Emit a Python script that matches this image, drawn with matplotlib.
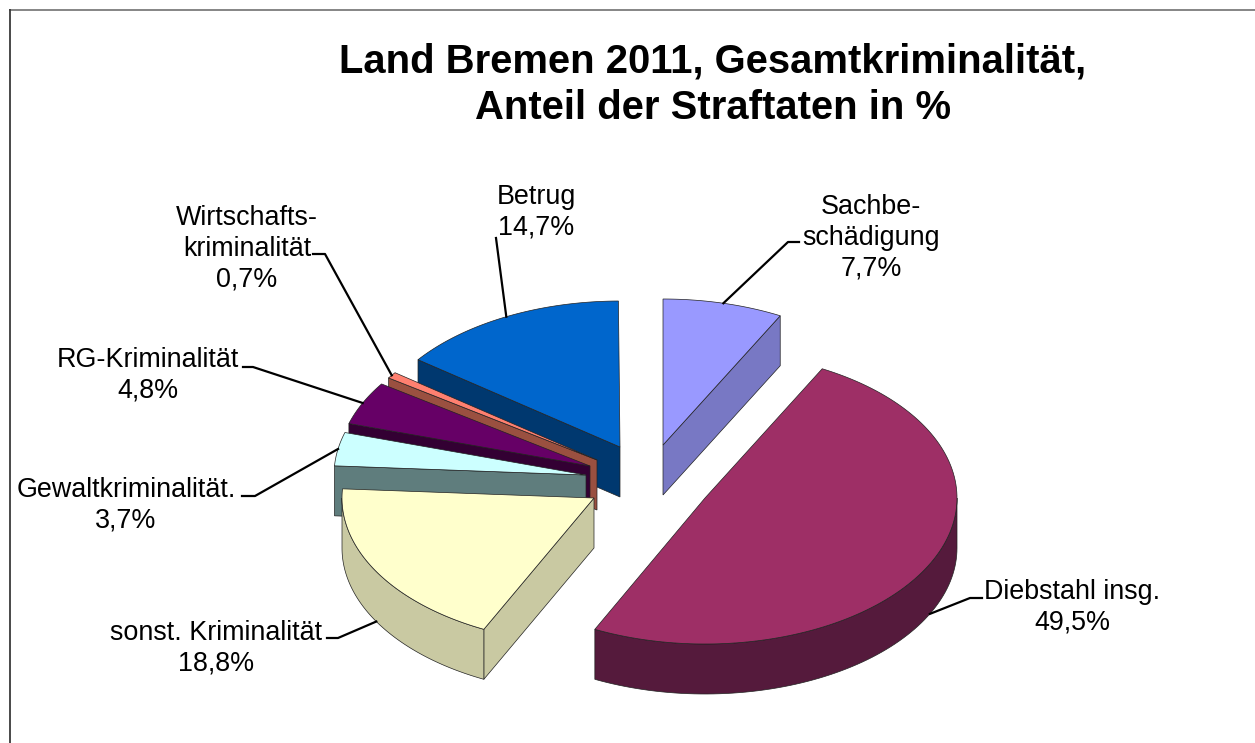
import numpy as np
import matplotlib
matplotlib.use('Agg')
import matplotlib.pyplot as plt
from matplotlib.patches import Polygon

plt.rcParams['font.family'] = ['Liberation Sans', 'DejaVu Sans']

# data, clockwise from 12 o'clock
names = ['Sachbe-\nschädigung', 'Diebstahl insg.', 'sonst. Kriminalität', 'Gewaltkriminalität.',
         'RG-Kriminalität', 'Wirtschafts-\nkriminalität', 'Betrug']
shares = [7.7, 49.5, 18.8, 3.7, 4.8, 0.7, 14.7]

# look of the slices
top_colors = ['#9999FF', '#9E2F66', '#FFFFCC', '#CCFFFF', '#660066', '#FF8070', '#0066CC']
side_colors = ['#7878C4', '#551A3C', '#C9C9A2', '#5F7D7D', '#330033', '#9A5040', '#00386F']
# apex of each exploded slice in pixels
apex = [(663, 445), (705, 498), (594, 498), (586, 475), (590, 466), (597, 460), (620, 447)]
rx, ry, depth = 252, 146, 50
draw_order = [0, 6, 5, 4, 3, 2, 1]

# label text centre and the elbow of its leader line
label_pos = [(871, 238), (1072, 607), (216, 648), (126, 505.5), (148, 375.5), (247, 249), (536, 212.5)]
elbow = [[(788, 242), (799, 242)], [(970, 598), (982, 598)], [(338, 638), (327, 638)],
         [(255, 496), (242, 496)], [(253, 367), (243, 367)], [(325, 254), (313, 254)],
         [(496, 238)]]

fig = plt.figure(figsize=(12.55, 7.43), dpi=100)
ax = fig.add_axes([0, 0, 1, 1])
ax.set_xlim(0, 1255)
ax.set_ylim(743, 0)
ax.axis('off')

# frame
ax.plot([9, 1255], [9.5, 9.5], color='#858585', lw=1.4, solid_capstyle='butt')
ax.plot([9.5, 9.5], [743, 9], color='#3a3a3a', lw=1.3, solid_capstyle='butt')

ends = np.cumsum(shares) / 100 * 360
starts = ends - np.array(shares) / 100 * 360


def rim(a, deg):
    t = np.radians(deg)
    return np.array([a[0] + rx * np.sin(t), a[1] - ry * np.cos(t)])


for i in draw_order:
    a = np.array(apex[i], dtype=float)
    t0, t1 = starts[i], ends[i]
    down = np.array([0, depth])
    mid = rim(a, (t0 + t1) / 2) - a

    # cut faces, only the ones turned to the viewer
    for deg in (t0, t1):
        d = rim(a, deg) - a
        n = np.array([d[1], -d[0]])
        if n @ mid > 0:
            n = -n
        if n[1] > 0:
            pts = [a, rim(a, deg), rim(a, deg) + down, a + down]
            ax.add_patch(Polygon(pts, fc=side_colors[i], ec='#222222', lw=0.5, zorder=2))

    # outer wall
    w0, w1 = max(t0, 90), min(t1, 270)
    if w1 > w0:
        arc = np.array([rim(a, x) for x in np.linspace(w0, w1, 80)])
        pts = np.vstack([arc, arc[::-1] + down])
        ax.add_patch(Polygon(pts, fc=side_colors[i], ec='#222222', lw=0.5, zorder=2))

    # top face
    arc = np.array([rim(a, x) for x in np.linspace(t0, t1, 120)])
    ax.add_patch(Polygon(np.vstack([a, arc]), fc=top_colors[i], ec='#222222', lw=0.5, zorder=2))

# leader lines and labels
for i in range(len(shares)):
    a = np.array(apex[i], dtype=float)
    m = (starts[i] + ends[i]) / 2
    p = rim(a, m)
    if np.cos(np.radians(m)) < 0:
        p = p + np.array([0, depth])
    line = np.array([p] + elbow[i])
    ax.plot(line[:, 0], line[:, 1], color='black', lw=1.6, zorder=3)
    txt = names[i] + '\n' + ('%.1f%%' % shares[i]).replace('.', ',')
    ax.text(label_pos[i][0], label_pos[i][1], txt, ha='center', va='center',
            fontsize=19.4, linespacing=1.24, zorder=4)

ax.text(713, 85, 'Land Bremen 2011, Gesamtkriminalität,\nAnteil der Straftaten in %', ha='center',
        va='center', fontsize=28.8, fontweight='bold', linespacing=1.27)

fig.savefig('out.png', dpi=100)
